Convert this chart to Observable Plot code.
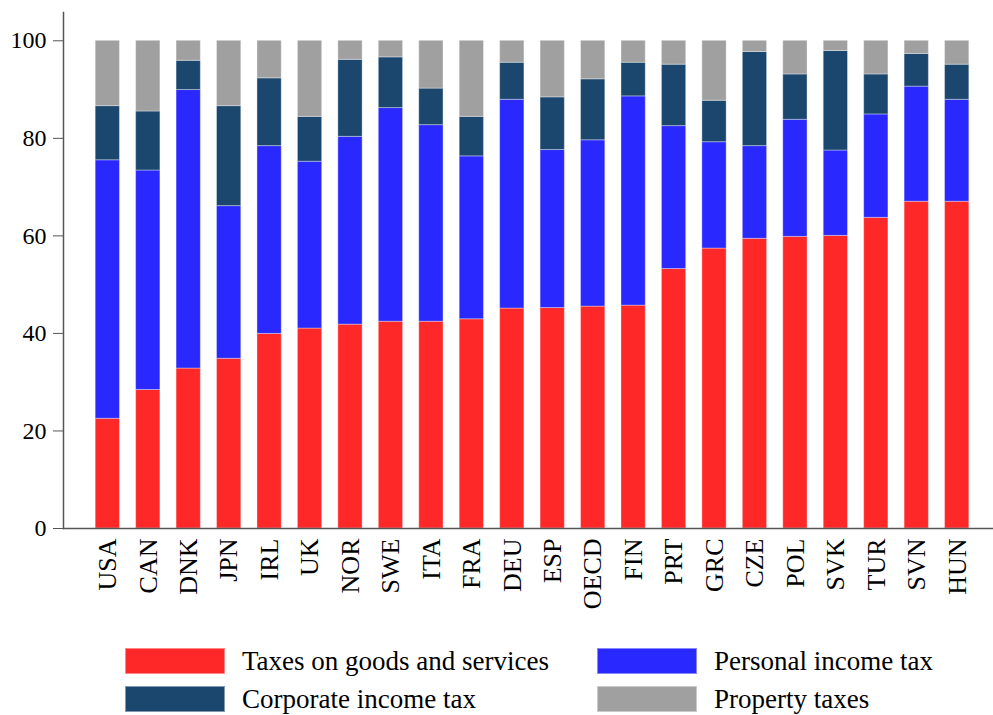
<!DOCTYPE html>
<html>
<head>
<meta charset="utf-8">
<script src="https://cdn.jsdelivr.net/npm/d3@7"></script>
<script src="https://cdn.jsdelivr.net/npm/@observablehq/plot@0.6"></script>
<style>
  body { margin: 0; background: #fff; font-family: "Liberation Serif", "Times New Roman", "DejaVu Serif", Tinos, serif; }
  #chart svg { display: block; }
  #chart svg, #chart svg text { font-family: "Liberation Serif", "Times New Roman", "DejaVu Serif", Tinos, serif !important; }
  .legend { position: relative; width: 993px; height: 80px; }
  .item { position: absolute; display: flex; align-items: center; height: 26px; font-size: 27px; color: #000; }
  .sw { width: 100px; height: 26px; margin-right: 17px; box-sizing: border-box; border: 1px solid rgba(255,255,255,0.45); }
</style>
</head>
<body>
<div id="chart"></div>
<div class="legend" id="legend"></div>
<script>
const countries = ["USA","CAN","DNK","JPN","IRL","UK","NOR","SWE","ITA","FRA","DEU","ESP","OECD","FIN","PRT","GRC","CZE","POL","SVK","TUR","SVN","HUN"];
const goods     = [22.5,28.4,32.8,34.8,39.9,41.0,41.8,42.4,42.4,42.9,45.1,45.2,45.5,45.7,53.2,57.4,59.4,59.8,60.0,63.7,67.0,67.0];
const personal  = [53.0,45.0,57.1,31.3,38.5,34.2,38.5,43.8,40.3,33.4,42.8,32.4,34.1,42.9,29.3,21.8,19.0,24.0,17.5,21.2,23.6,20.9];
const corporate = [11.1,12.1,6.0,20.5,13.9,9.2,15.8,10.4,7.5,8.1,7.6,10.8,12.5,6.9,12.6,8.5,19.3,9.3,20.4,8.2,6.7,7.2];
const property  = [13.4,14.5,4.1,13.4,7.7,15.6,3.9,3.4,9.8,15.6,4.5,11.6,7.9,4.5,4.9,12.3,2.3,6.9,2.1,6.9,2.7,4.9];
const seriesNames = ["Taxes on goods and services","Personal income tax","Corporate income tax","Property taxes"];
const seriesColors = ["#ff2828","#2828ff","#1b476f","#a0a0a0"];
const yTicks = [0,20,40,60,80,100];
const legendOrder = [0,1,2,3];

const seriesValues = [goods, personal, corporate, property];
const rows = [];
seriesValues.forEach((vals, s) => {
  countries.forEach((c, i) => rows.push({country: c, series: seriesNames[s], value: vals[i]}));
});

const chart = Plot.plot({
  width: 993,
  height: 635,
  marginLeft: 63,
  marginRight: 0,
  marginTop: 12,
  marginBottom: 107,
  style: {fontFamily: "'Liberation Serif', 'Times New Roman', 'DejaVu Serif', serif", fontSize: "24px", color: "#000", background: "#fff"},
  x: {domain: countries, padding: 0.4, round: false, insetLeft: 16, insetRight: 8, label: null},
  y: {domain: [0, 105.8], label: null},
  color: {domain: seriesNames, range: seriesColors},
  marks: [
    Plot.barY(rows, Plot.stackY({order: seriesNames}, {
      x: "country", y: "value", fill: "series",
      stroke: "#ffffff", strokeOpacity: 0.35, strokeWidth: 1
    })),
    Plot.ruleY([0], {stroke: "#555", strokeWidth: 1.5}),
    Plot.axisY(yTicks, {tickSize: 10, tickPadding: 7, stroke: "#555", fontSize: 24, label: null}),
    Plot.frame({anchor: "left", stroke: "#555", strokeWidth: 1.5}),
    Plot.axisX({tickSize: 0, tickRotate: -90, tickPadding: 10, fontSize: 26, label: null})
  ]
});
document.getElementById("chart").appendChild(chart);

const legend = document.getElementById("legend");
const pos = [
  {left: 125, top: 13}, {left: 597, top: 13},
  {left: 125, top: 51}, {left: 597, top: 51}
];
legendOrder.forEach((s, k) => {
  const item = document.createElement("div");
  item.className = "item";
  item.style.left = pos[k].left + "px";
  item.style.top = pos[k].top + "px";
  const sw = document.createElement("div");
  sw.className = "sw";
  sw.style.background = seriesColors[s];
  const t = document.createElement("span");
  t.textContent = seriesNames[s];
  item.appendChild(sw);
  item.appendChild(t);
  legend.appendChild(item);
});
</script>
</body>
</html>
